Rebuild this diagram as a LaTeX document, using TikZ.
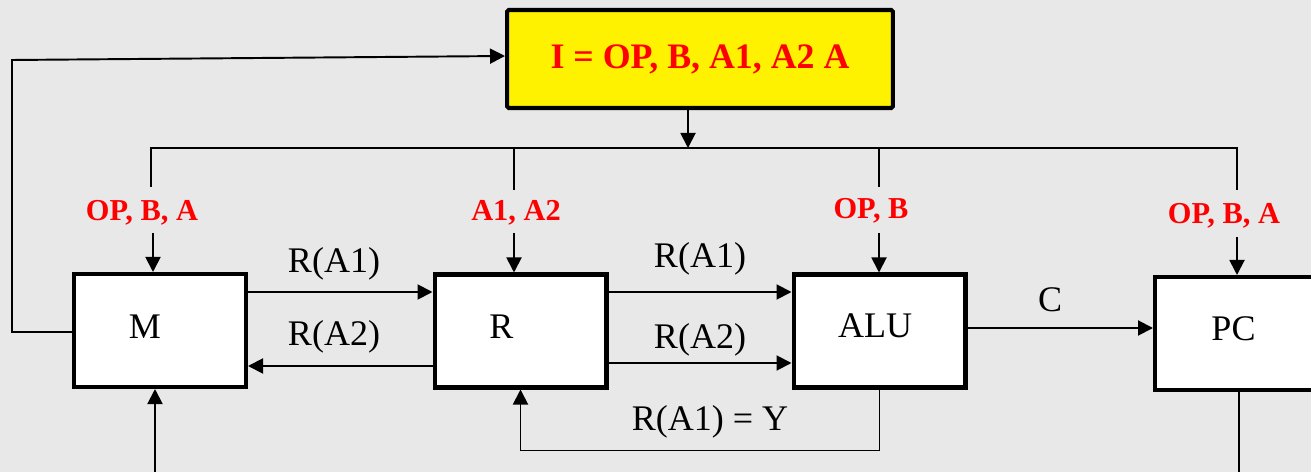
\documentclass[tikz,border=0pt]{standalone}
\usepackage{fontspec}
\setmainfont{Liberation Serif}
\usetikzlibrary{arrows.meta}

\definecolor{bg}{RGB}{232,232,232}

\tikzset{
  unit/.style={draw, line width=2.3pt, fill=white, minimum width=3.44cm, minimum height=2.26cm, inner sep=0pt},
  wire/.style={line width=1.1pt},
  arr/.style={wire, -{Triangle[length=3mm,width=3mm]}},
  tag/.style={text=red, font=\fontsize{17.3}{20}\selectfont\bfseries, inner sep=1pt},
  lbl/.style={font=\fontsize{20.5}{24}\selectfont, inner sep=1pt},
}

\begin{document}
\begin{tikzpicture}[x=0.02cm, y=-0.02cm]
  \fill[bg] (0,0) rectangle (1311,472);
  \useasboundingbox (0,0) rectangle (1311,472);
  \clip (0,0) rectangle (1311,472);

  % instruction word
  \node[draw, line width=2.3pt, rounded corners=1pt, fill=yellow, minimum width=7.72cm, minimum height=1.96cm,
        text=red, font=\fontsize{20.4}{24}\selectfont\bfseries] (I) at (700,59) {I = OP, B, A1, A2 A};

  % blocks
  \node[unit, label={[lbl, xshift=-3mm, yshift=0.8mm]center:M}] (M) at (160,330.5) {};
  \node[unit, label={[lbl, xshift=-3.8mm, yshift=0.9mm]center:R}] (R) at (520.5,331) {};
  \node[unit, label={[lbl, xshift=-0.9mm, yshift=1.1mm]center:ALU}] (ALU) at (879.5,331) {};
  \node[unit, label={[lbl, xshift=-1.5mm, yshift=0.9mm]center:PC}] (PC) at (1241,333.5) {};

  % fields of the instruction
  \node[tag] (tM) at (142,213) {OP, B, A};
  \node[tag] (tR) at (516,213) {A1, A2};
  \node[tag] (tALU) at (871,211) {OP, B};
  \node[tag] (tPC) at (1224,216) {OP, B, A};

  % distribution bus
  \coordinate (bus) at (688,148);
  \draw[arr] (I.south -| bus) -- (bus);
  \draw[wire] (151,187) |- (1237,148) -- (1237,190);
  \draw[wire] (514,148) -- (514,190);
  \draw[wire] (879,148) -- (879,187);

  \draw[arr] (153,233) -- (M.north -| 153,0);
  \draw[arr] (514,233) -- (R.north -| 514,0);
  \draw[arr] (879,233) -- (ALU.north -| 879,0);
  \draw[arr] (1237,237) -- (PC.north -| 1237,0);

  % data paths
  \draw[arr] (M.east |- 0,292) -- (R.west |- 0,292);
  \draw[arr] (R.west |- 0,366) -- (M.east |- 0,366);
  \draw[arr] (R.east |- 0,292) -- (ALU.west |- 0,292);
  \draw[arr] (R.east |- 0,363) -- (ALU.west |- 0,363);
  \draw[arr] (ALU.east |- 0,328) -- (PC.west |- 0,328);
  \draw[arr] (ALU.south) -- ++(0,61) -| (R.south);

  \node[lbl] (ma1) at (334,264) {R(A1)};
  \node[lbl] (ma2) at (334,337) {R(A2)};
  \node[lbl] (ra1) at (700,259) {R(A1)};
  \node[lbl] (ra2) at (700,340) {R(A2)};
  \node[lbl] (fb) at (710,422) {R(A1) = Y};
  \node[lbl] (c) at (1050,300) {C};

  % fetch loop and outside connections
  \draw[arr] (M.west |- 0,332) -- (12,332) -- (12,60) -- (I.west |- 0,56);
  \draw[arr] (155,480) -- (M.south -| 155,0);
  \draw[wire] (PC.south -| 1239,0) -- (1239,480);
\end{tikzpicture}
\end{document}
